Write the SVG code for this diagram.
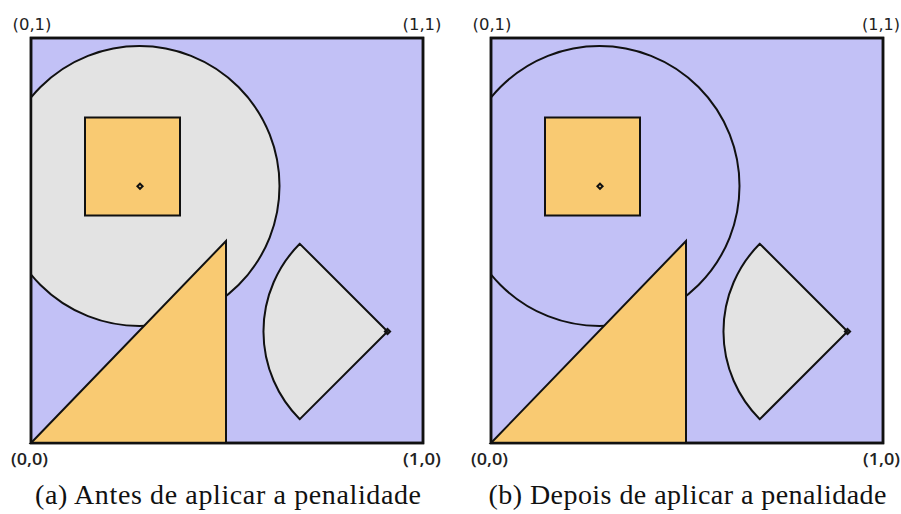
<svg xmlns="http://www.w3.org/2000/svg" width="901" height="514" viewBox="0 0 901 514">
<style>
.bg{fill:#c2c1f6;stroke:#111;stroke-width:2.5}
.gray{fill:#e3e3e3;stroke:#111;stroke-width:2}
.ring{fill:none;stroke:#111;stroke-width:2}
.org{fill:#f9ca72;stroke:#111;stroke-width:2}
.dot{fill:none;stroke:#111;stroke-width:2}
.lbl{font-family:"DejaVu Sans",Verdana,sans-serif;font-size:16.5px;fill:#222}
.lblb{font-family:"Open Sans","DejaVu Sans",sans-serif;font-size:16px;font-weight:600;fill:#222}
.cap{font-family:"Liberation Serif","Times New Roman",serif;font-size:28px;fill:#111}
</style>
<defs>
<clipPath id="clip" clipPathUnits="userSpaceOnUse"><rect x="31" y="38" width="392" height="405"/></clipPath>
<path id="sector" d="M387.5,331.5 L299.8,243.8 A124,124 0 0 0 299.8,419.2 Z"/>
<path id="diam" d="M0,-2.6 L2.6,0 L0,2.6 L-2.6,0 Z"/>
</defs>

<g id="panel-a">
  <rect id="a-domain" class="bg" x="31" y="38" width="392" height="405"/>
  <circle id="a-circle" class="gray" cx="139.5" cy="186" r="140" clip-path="url(#clip)"/>
  <rect id="a-square" class="org" x="85" y="117.5" width="95" height="98"/>
  <use id="a-square-center" href="#diam" class="dot" x="140" y="186.3"/>
  <polygon id="a-triangle" class="org" points="31,443 226,241 226,443"/>
  <use id="a-sector" href="#sector" class="gray"/>
  <use id="a-sector-apex" href="#diam" class="dot" x="387.5" y="331.5"/>
  <rect class="bg" x="31" y="38" width="392" height="405" style="fill:none"/>
  <text class="lbl" x="12.5" y="30" textLength="39" lengthAdjust="spacingAndGlyphs">(0,1)</text>
  <text class="lbl" x="402.5" y="30" textLength="39" lengthAdjust="spacingAndGlyphs">(1,1)</text>
  <text class="lblb" x="11" y="465" textLength="37" lengthAdjust="spacingAndGlyphs">(0,0)</text>
  <text class="lblb" x="403" y="465" textLength="38" lengthAdjust="spacingAndGlyphs">(1,0)</text>
  <text class="cap" x="35" y="504" textLength="386" lengthAdjust="spacing">(a) Antes de aplicar a penalidade</text>
</g>

<g id="panel-b">
  <g transform="translate(460,0)">
    <rect id="b-domain" class="bg" x="31" y="38" width="392" height="405"/>
    <circle id="b-circle" class="ring" cx="139.5" cy="186" r="140" clip-path="url(#clip)"/>
    <rect id="b-square" class="org" x="85" y="117.5" width="95" height="98"/>
    <use id="b-square-center" href="#diam" class="dot" x="140" y="186.3"/>
    <polygon id="b-triangle" class="org" points="31,443 226,241 226,443"/>
    <use id="b-sector" href="#sector" class="gray"/>
    <use id="b-sector-apex" href="#diam" class="dot" x="387.5" y="331.5"/>
    <rect class="bg" x="31" y="38" width="392" height="405" style="fill:none"/>
    <text class="lbl" x="12.5" y="30" textLength="39" lengthAdjust="spacingAndGlyphs">(0,1)</text>
    <text class="lbl" x="402" y="30" textLength="38" lengthAdjust="spacingAndGlyphs">(1,1)</text>
    <text class="lblb" x="11" y="465" textLength="37" lengthAdjust="spacingAndGlyphs">(0,0)</text>
    <text class="lblb" x="403" y="465" textLength="37" lengthAdjust="spacingAndGlyphs">(1,0)</text>
  </g>
  <text class="cap" x="488.5" y="504" textLength="398" lengthAdjust="spacing">(b) Depois de aplicar a penalidade</text>
</g>
</svg>
